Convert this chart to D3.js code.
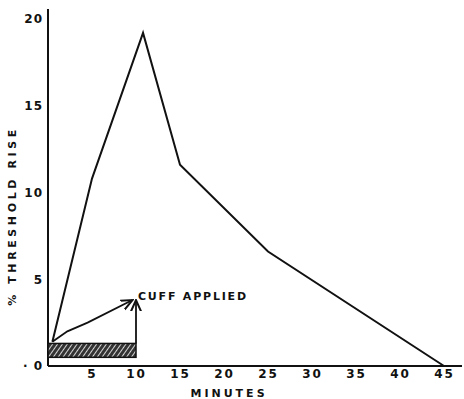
<!DOCTYPE html>
<html>
<head>
<meta charset="utf-8">
<script src="https://cdn.jsdelivr.net/npm/d3@7"></script>
<style>
  body { margin: 0; background: #fff; }
  text { font-family: "DejaVu Sans", sans-serif; fill: #111; }
</style>
</head>
<body>
<div id="chart-area"></div>
<script>
// data
const minutes = [0.5, 5, 10.8, 15, 25, 45];
const thresholdRise = [1.4, 10.8, 19.2, 11.6, 6.6, 0];
const xTicks = [5, 10, 15, 20, 25, 30, 35, 40, 45];
const yTicks = [0, 5, 10, 15, 20];
// cuff bar and arrow (minutes / % rise)
const cuffBar = [0, 10, 0.5, 1.3];
const arrowMin = [0.5, 2.2, 4.5, 9.6];
const arrowVal = [1.4, 2.0, 2.5, 3.8];

const WIDTH = 464, HEIGHT = 399;
const svg = d3.select("#chart-area").append("svg")
  .attr("width", WIDTH).attr("height", HEIGHT);

const x = d3.scaleLinear().domain([0, 45]).range([48, 444]);
const y = d3.scaleLinear().domain([0, 20]).range([366, 19]);

const defs = svg.append("defs");
const pat = defs.append("pattern")
  .attr("id", "hatch").attr("patternUnits", "userSpaceOnUse")
  .attr("width", 4).attr("height", 4)
  .attr("patternTransform", "rotate(35)");
pat.append("rect").attr("width", 4).attr("height", 4).attr("fill", "#333");
pat.append("line").attr("x1", 0).attr("y1", 0).attr("x2", 0).attr("y2", 4)
  .attr("stroke", "#fff").attr("stroke-width", 1.6);

defs.append("marker").attr("id", "arrow")
  .attr("viewBox", "0 0 10 10").attr("refX", 9).attr("refY", 5)
  .attr("markerWidth", 7).attr("markerHeight", 7).attr("orient", "auto")
  .append("path").attr("d", "M0,1 L9,5 L0,9").attr("fill", "none")
  .attr("stroke", "#111").attr("stroke-width", 1.6);

// axes lines
svg.append("line").attr("x1", x(0)).attr("x2", x(0)).attr("y1", 9).attr("y2", y(0))
  .attr("stroke", "#111").attr("stroke-width", 2);
svg.append("line").attr("x1", x(0)).attr("x2", 462).attr("y1", y(0)).attr("y2", y(0))
  .attr("stroke", "#111").attr("stroke-width", 2);

// tick labels
const xAxisCall = d3.axisBottom(x).tickValues(xTicks).tickSize(0).tickPadding(3);
const xg = svg.append("g").attr("transform", `translate(0, ${y(0)})`).call(xAxisCall);
xg.select(".domain").remove();
xg.selectAll("text").attr("font-size", "12px").attr("font-weight", "bold")
  .attr("font-family", "DejaVu Sans").attr("fill", "#111").style("letter-spacing", "2px");

const yAxisCall = d3.axisLeft(y).tickValues(yTicks).tickSize(0).tickPadding(5)
  .tickFormat(d => d === 0 ? "· 0" : d);
const yg = svg.append("g").attr("transform", `translate(${x(0)}, 0)`).call(yAxisCall);
yg.select(".domain").remove();
yg.selectAll("text").attr("font-size", "12px").attr("font-weight", "bold")
  .attr("font-family", "DejaVu Sans").attr("fill", "#111").style("letter-spacing", "1px");

// axis labels
svg.append("text")
  .attr("x", 229).attr("y", 397)
  .attr("text-anchor", "middle").attr("font-size", "11px").attr("font-weight", "bold")
  .style("letter-spacing", "3px")
  .text("MINUTES");

svg.append("text")
  .attr("transform", "translate(16, 216) rotate(-90)")
  .attr("text-anchor", "middle").attr("font-size", "11px").attr("font-weight", "bold")
  .style("letter-spacing", "3.6px")
  .text("% THRESHOLD RISE");

// cuff bar
svg.append("rect")
  .attr("x", x(cuffBar[0])).attr("width", x(cuffBar[1]) - x(cuffBar[0]))
  .attr("y", y(cuffBar[3])).attr("height", y(cuffBar[2]) - y(cuffBar[3]))
  .attr("fill", "url(#hatch)").attr("stroke", "#111").attr("stroke-width", 1.5);

// arrows
const line = d3.line().x(d => x(d[0])).y(d => y(d[1]));
svg.append("path")
  .attr("d", line(d3.zip(arrowMin, arrowVal)))
  .attr("fill", "none").attr("stroke", "#111").attr("stroke-width", 1.8)
  .attr("marker-end", "url(#arrow)");
svg.append("path")
  .attr("d", line([[cuffBar[1], cuffBar[3]], [cuffBar[1], 3.8]]))
  .attr("fill", "none").attr("stroke", "#111").attr("stroke-width", 1.8)
  .attr("marker-end", "url(#arrow)");

svg.append("text")
  .attr("x", x(10) + 2).attr("y", y(3.8))
  .attr("font-size", "11px").attr("font-weight", "bold")
  .style("letter-spacing", "1.8px")
  .text("CUFF APPLIED");

// main curve
svg.append("path")
  .attr("d", line(d3.zip(minutes, thresholdRise)))
  .attr("fill", "none").attr("stroke", "#111").attr("stroke-width", 2);
</script>
</body>
</html>
